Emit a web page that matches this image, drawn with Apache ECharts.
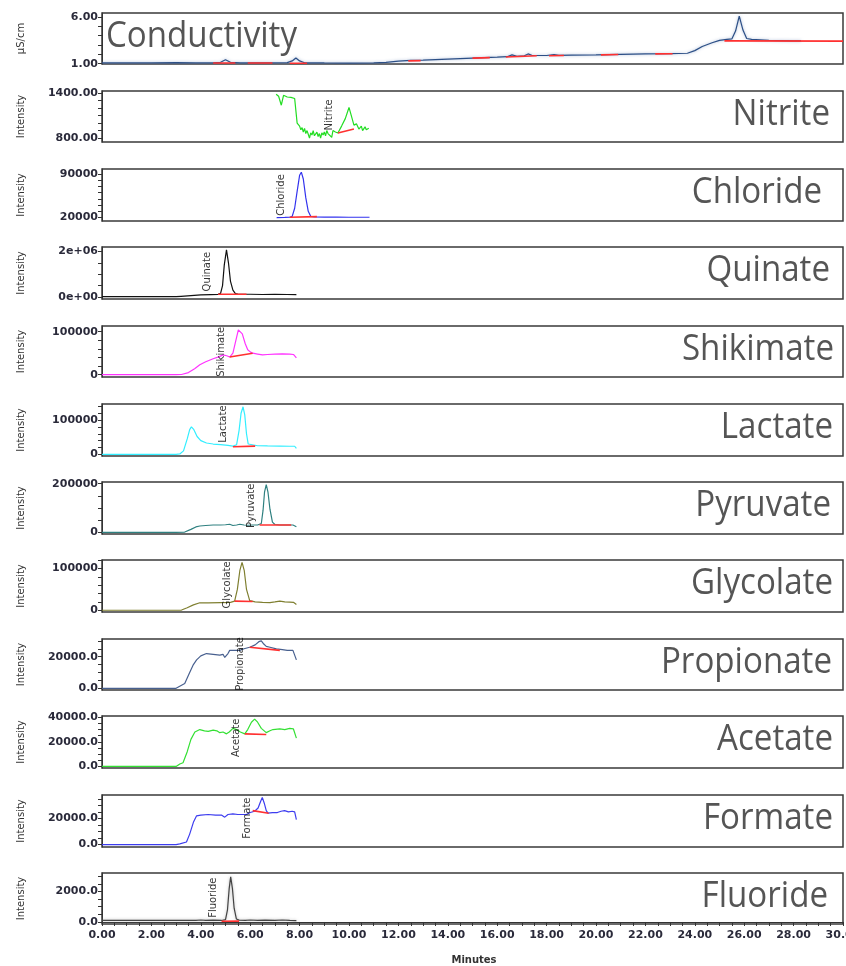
<!DOCTYPE html>
<html><head><meta charset="utf-8">
<script src="https://cdn.jsdelivr.net/npm/echarts@6/dist/echarts.min.js"></script>
<style>html,body{margin:0;padding:0;background:#fff}#c{width:846px;height:966px}</style>
</head><body><div id="c"></div>
<script>
// ---------------- DATA (time in minutes, signal) ----------------
const panelNames = ['Conductivity','Nitrite','Chloride','Quinate','Shikimate','Lactate','Pyruvate','Glycolate','Propionate','Acetate','Formate','Fluoride'];
const yAxisTitles = ['µS/cm','Intensity','Intensity','Intensity','Intensity','Intensity','Intensity','Intensity','Intensity','Intensity','Intensity','Intensity'];

const conductivity = [[0,1.08],[1,1.09],[2,1.1],[3,1.12],[3.8,1.08],[4.5,1.1],[4.8,1.15],[5.0,1.42],[5.2,1.15],[5.6,1.1],[6.5,1.1],[7.5,1.12],[7.7,1.3],[7.85,1.62],[8.0,1.3],[8.2,1.1],[9,1.08],[10,1.07],[11,1.1],[11.5,1.15],[12,1.28],[12.5,1.35],[13,1.38],[14,1.5],[15,1.6],[16,1.7],[16.4,1.75],[16.6,1.95],[16.8,1.8],[17.1,1.85],[17.25,2.05],[17.4,1.9],[18,1.88],[18.3,1.98],[18.5,1.9],[19,1.92],[20,1.95],[21,2.0],[22,2.05],[23,2.08],[23.7,2.12],[24.0,2.4],[24.3,2.85],[24.7,3.25],[25.0,3.5],[25.3,3.6],[25.5,3.65],[25.65,4.5],[25.8,6.1],[25.95,4.6],[26.1,3.7],[26.3,3.6],[27,3.5],[27.5,3.48],[28,3.45],[28.3,3.44]];
const conductivityBase = [[[4.5,1.08],[5.4,1.08]],[[5.9,1.07],[6.9,1.07]],[[7.6,1.05],[8.3,1.05]],[[12.4,1.3],[12.9,1.33]],[[15.0,1.6],[15.7,1.65]],[[16.35,1.72],[17.6,1.85]],[[18.1,1.85],[18.7,1.88]],[[20.2,1.95],[20.9,1.98]],[[22.4,2.05],[23.1,2.07]],[[25.2,3.45],[30,3.42]]];

const nitrite = [[7.05,1387],[7.15,1360],[7.26,1240],[7.35,1373],[7.5,1350],[7.65,1345],[7.8,1330],[7.9,1000],[8.0,960],[8.05,910],[8.1,940],[8.15,880],[8.2,930],[8.25,860],[8.3,900],[8.35,850],[8.4,800],[8.45,870],[8.5,840],[8.55,900],[8.6,830],[8.7,880],[8.75,820],[8.8,860],[8.85,800],[8.9,870],[8.95,840],[9.0,880],[9.05,830],[9.1,900],[9.15,860],[9.2,880],[9.3,810],[9.35,900],[9.45,880],[9.55,867],[9.7,960],[9.85,1060],[10.0,1210],[10.2,973],[10.3,990],[10.4,920],[10.5,960],[10.55,900],[10.65,950],[10.7,910],[10.8,930]];
const nitriteBase = [[[9.55,867],[10.2,920]]];

const chloride = [[7.07,20000],[7.4,20200],[7.6,20500],[7.7,22000],[7.8,35000],[7.9,62000],[8.0,88000],[8.07,93000],[8.15,82000],[8.25,52000],[8.35,30000],[8.45,22000],[8.6,21000],[9,20800],[9.5,20600],[10,20500],[10.5,20500],[10.83,20500]];
const chlorideBase = [[[7.6,20500],[8.7,21500]]];

const quinate = [[0,15000],[1,15000],[2,15000],[3,15000],[3.2,30000],[3.6,60000],[4,90000],[4.4,105000],[4.7,115000],[4.8,160000],[4.88,500000],[4.95,1400000],[5.04,2070000],[5.12,1500000],[5.2,700000],[5.3,300000],[5.4,150000],[5.5,130000],[6,120000],[6.5,110000],[7,120000],[7.5,110000],[7.87,100000]];
const quinateBase = [[[4.7,120000],[5.85,120000]]];

const shikimate = [[0,0],[1,0],[2,0],[3,0],[3.22,500],[3.5,5000],[3.75,14000],[3.96,23000],[4.2,30000],[4.5,37000],[4.75,42000],[4.9,46000],[5.05,44000],[5.17,41000],[5.3,50000],[5.42,80000],[5.52,104000],[5.58,108000],[5.68,95000],[5.8,72000],[5.9,58000],[6.0,53000],[6.1,50000],[6.3,48000],[6.5,46000],[6.7,47000],[7,48000],[7.3,48500],[7.6,48000],[7.75,47000],[7.87,39000]];
const shikimateBase = [[[5.17,41000],[6.1,50000]]];

const lactate = [[0,0],[1,0],[2,0],[3,0],[3.15,1000],[3.3,10000],[3.45,45000],[3.55,72000],[3.62,80000],[3.72,72000],[3.85,52000],[4.0,40000],[4.23,33000],[4.5,30000],[4.8,28000],[5.1,26000],[5.3,24000],[5.45,28000],[5.55,70000],[5.63,120000],[5.71,139000],[5.78,115000],[5.85,60000],[5.92,30000],[6.0,26000],[6.3,25000],[6.7,24500],[7.2,24000],[7.6,23500],[7.8,23500],[7.87,17000]];
const lactateBase = [[[5.3,22000],[6.2,24000]]];

const pyruvate = [[0,0],[1,0],[2,0],[3,0],[3.35,1000],[3.6,12000],[3.8,22000],[3.96,26000],[4.2,28000],[4.5,30000],[4.8,30000],[5.0,31000],[5.17,33000],[5.3,28000],[5.45,30000],[5.58,33000],[5.75,30000],[5.9,29000],[6.1,30000],[6.3,30000],[6.45,36000],[6.52,90000],[6.58,165000],[6.65,196000],[6.72,165000],[6.8,95000],[6.9,42000],[7.0,32000],[7.2,30000],[7.5,30000],[7.73,30000],[7.87,23000]];
const pyruvateBase = [[[6.38,30000],[7.66,30000]]];

const glycolate = [[0,0],[1,0],[2,0],[3,0],[3.22,500],[3.45,6000],[3.7,13000],[3.96,18000],[4.3,18000],[4.8,18500],[5.2,19000],[5.37,22000],[5.48,50000],[5.58,95000],[5.67,115000],[5.76,95000],[5.85,50000],[5.98,23000],[6.2,20000],[6.5,19000],[6.8,18500],[7.0,20000],[7.2,22000],[7.4,20000],[7.6,19500],[7.75,19000],[7.87,14000]];
const glycolateBase = [[[5.37,22000],[6.1,21000]]];

const propionate = [[0,0],[1,0],[2,0],[3,0],[3.08,300],[3.35,3000],[3.55,10000],[3.7,15000],[3.83,18000],[4.0,20500],[4.23,22000],[4.5,21500],[4.77,21000],[4.9,21500],[4.97,19500],[5.1,22000],[5.17,24000],[5.4,24000],[5.58,24000],[5.75,25000],[5.98,26000],[6.2,27500],[6.35,29500],[6.45,30000],[6.55,28000],[6.65,26500],[6.8,26000],[7.06,25000],[7.3,24500],[7.5,24000],[7.73,24000],[7.87,18000]];
const propionateBase = [[[5.98,26000],[7.2,24000]]];

const acetate = [[0,0],[1,0],[2,0],[3,0],[3.02,500],[3.15,2000],[3.28,3000],[3.45,12000],[3.6,22000],[3.76,28000],[3.96,30000],[4.15,29000],[4.3,28500],[4.5,29500],[4.65,29000],[4.77,27500],[4.9,28000],[5.04,26500],[5.15,28000],[5.3,31000],[5.45,30000],[5.6,28000],[5.78,26500],[5.9,30000],[6.05,36000],[6.18,38500],[6.3,36000],[6.45,31000],[6.65,27500],[6.8,29000],[6.92,30000],[7.2,30500],[7.4,30000],[7.6,31000],[7.75,30500],[7.87,23000]];
const acetateBase = [[[5.78,26500],[6.65,26000]]];

const formate = [[0,0],[1,0],[2,0],[3,0],[3.15,500],[3.42,2000],[3.55,8000],[3.7,17000],[3.83,22000],[4.0,22500],[4.3,23000],[4.6,22500],[4.85,22500],[4.97,21000],[5.1,23000],[5.3,23500],[5.5,23000],[5.7,23000],[5.85,23000],[6.0,24500],[6.18,25500],[6.32,28000],[6.42,33000],[6.49,36000],[6.58,31000],[6.65,26000],[6.72,24000],[6.9,24500],[7.1,24500],[7.25,25500],[7.39,26000],[7.55,25000],[7.7,25500],[7.8,25000],[7.87,19000]];
const formateBase = [[[6.1,26000],[6.75,24000]]];

const fluoride = [[0,100],[1,100],[2,100],[3,100],[3.8,110],[4.0,130],[4.2,110],[4.5,120],[4.84,100],[5.0,150],[5.08,800],[5.15,2200],[5.21,2950],[5.28,2200],[5.35,900],[5.44,200],[5.55,120],[5.8,110],[6.0,130],[6.3,100],[6.6,120],[7.0,110],[7.3,130],[7.6,100],[7.87,90]];
const fluorideBase = [[[4.84,50],[5.55,60]]];

// peak annotation anchors [time, signal]
const peakLabelAt = [null,[9.2,1110],[7.25,56300],[4.25,1110000],[4.85,53100],[4.93,88200],[6.05,108900],[5.08,61000],[5.6,15400],[5.44,23250],[5.87,20200],[4.5,1590]];

// axis ranges and ticks
const yMin = [0.97,746.7,14465,-87700,-5311,-5000,-7040,-4146,-1076,-1300,-1846,-131];
const yMax = [6.43,1430.7,98140,2193000,113160,147060,207040,120730,31200,41050,37920,3203];
const yTickStep = [1,100,10000,500000,20000,20000,50000,20000,5000,5000,5000,500];
const yLabelVals = [[1,6],[800,1400],[20000,90000],[0,2000000],[0,100000],[0,100000],[0,200000],[0,100000],[0,20000],[0,20000,40000],[0,20000],[0,2000]];
const yLabelText = [['1.00','6.00'],['800.00','1400.00'],['20000','90000'],['0e+00','2e+06'],['0','100000'],['0','100000'],['0','200000'],['0','100000'],['0.0','20000.0'],['0.0','20000.0','40000.0'],['0.0','20000.0'],['0.0','2000.0']];
const xLabelVals = [0,2,4,6,8,10,12,14,16,18,20,22,24,26,28,30];

const traces = [conductivity,nitrite,chloride,quinate,shikimate,lactate,pyruvate,glycolate,propionate,acetate,formate,fluoride];
const baselines = [conductivityBase,nitriteBase,chlorideBase,quinateBase,shikimateBase,lactateBase,pyruvateBase,glycolateBase,propionateBase,acetateBase,formateBase,fluorideBase];

// ---------------- LAYOUT / STYLE ----------------
const colors = ['#2c4f86','#22dd22','#3333ee','#111111','#ff33ff','#33eeff','#2f8080','#7f7f30','#48608f','#33e033','#3d3def','#444444'];
const tops = [13,91,169,247,326,404,482,560,639,716,795,873];
const heights = [51,51,52,52,51,52,52,52,51,52,52,51];
const titleRight = [0,830,822,830,834,833,831,833,832,833,833,828];
const GL = 102, GR = 3;
const tickFont = 'DejaVu Sans';

const grids = [], xAxes = [], yAxes = [], series = [], graphics = [];
for (let i = 0; i < 12; i++) {
  grids.push({left: GL, right: GR, top: tops[i], height: heights[i], show: true, borderColor: '#3a3a3a', borderWidth: 1.5, backgroundColor: '#fff', containLabel: false, outerBoundsMode: 'none'});
  const isBottom = i === 11;
  const xt = []; for (let v = 0; v <= 30.0001; v += 0.5) xt.push(+v.toFixed(1));
  xAxes.push({
    type: 'value', gridIndex: i, min: 0, max: 30, show: isBottom,
    axisLine: {show: true, lineStyle: {color: '#333', width: 1}},
    axisTick: {show: true, length: 4, customValues: xt, lineStyle: {color: '#333'}},
    axisLabel: {show: true, customValues: xLabelVals, formatter: v => v.toFixed(2), fontFamily: tickFont, fontWeight: 'bold', fontSize: 11, color: '#2a2a3a', margin: 6, hideOverlap: false},
    splitLine: {show: false}
  });
  const yt = [];
  const start = yLabelVals[i][0];
  for (let v = start; v <= yMax[i] + 1e-9; v += yTickStep[i]) yt.push(+v.toFixed(6));
  const lv = yLabelVals[i], lt = yLabelText[i];
  yAxes.push({
    type: 'value', gridIndex: i, min: yMin[i], max: yMax[i],
    axisLine: {show: true, lineStyle: {color: '#333', width: 1}},
    axisTick: {show: true, length: 4, customValues: yt, lineStyle: {color: '#333'}},
    axisLabel: {show: true, customValues: lv, formatter: v => { const k = lv.findIndex(a => Math.abs(a - v) < 1e-6 * Math.max(1, Math.abs(a))); return k >= 0 ? lt[k] : ''; }, fontFamily: tickFont, fontWeight: 'bold', fontSize: 11, color: '#2a2a3a', margin: 4},
    splitLine: {show: false}
  });
  const lineStyle = {color: colors[i], width: 1.2};
  if (i === 0) { lineStyle.shadowColor = 'rgba(120,145,190,0.7)'; lineStyle.shadowBlur = 3; }
  if (i === 11) { lineStyle.shadowColor = 'rgba(150,150,150,0.7)'; lineStyle.shadowBlur = 3; }
  series.push({type: 'line', xAxisIndex: i, yAxisIndex: i, data: traces[i], showSymbol: false, symbol: 'none', lineStyle: lineStyle, silent: true, animation: false, z: 3});
  baselines[i].forEach(seg => {
    series.push({type: 'line', xAxisIndex: i, yAxisIndex: i, data: seg, showSymbol: false, symbol: 'none', lineStyle: {color: '#ff3030', width: 1.6}, silent: true, animation: false, z: 4});
  });
  if (peakLabelAt[i]) {
    series.push({type: 'scatter', xAxisIndex: i, yAxisIndex: i, data: [peakLabelAt[i]], symbol: 'circle', symbolSize: 2, itemStyle: {color: 'rgba(0,0,0,0)'}, silent: true, animation: false, z: 5,
      label: {show: true, position: 'inside', rotate: 90, formatter: () => panelNames[i], fontFamily: 'DejaVu Sans', fontSize: 10, color: '#000'}});
  }
  // y-axis title
  graphics.push({type: 'text', x: 21, y: tops[i] + heights[i] / 2, rotation: Math.PI / 2,
    style: {text: yAxisTitles[i], align: 'center', verticalAlign: 'middle', font: '10px "DejaVu Sans"', fill: '#333'}});
  // big panel title
  if (i === 0) {
    graphics.push({type: 'text', x: 106, y: 37, scaleX: 0.92,
      style: {text: panelNames[i], align: 'left', verticalAlign: 'middle', font: '36px "Open Sans"', fill: '#555555'}});
  } else {
    graphics.push({type: 'text', x: titleRight[i], y: tops[i] + heights[i] / 2 - 2, scaleX: 0.92,
      style: {text: panelNames[i], align: 'right', verticalAlign: 'middle', font: '36px "Open Sans"', fill: '#555555'}});
  }
}
graphics.push({type: 'text', x: 474, y: 960, style: {text: 'Minutes', align: 'center', verticalAlign: 'middle', font: 'bold 10px "DejaVu Sans"', fill: '#333'}});

const chart = echarts.init(document.getElementById('c'), null, {renderer: 'canvas'});
chart.setOption({
  backgroundColor: '#fff',
  animation: false,
  grid: grids, xAxis: xAxes, yAxis: yAxes, series: series,
  graphic: graphics
});
</script>
</body></html>
